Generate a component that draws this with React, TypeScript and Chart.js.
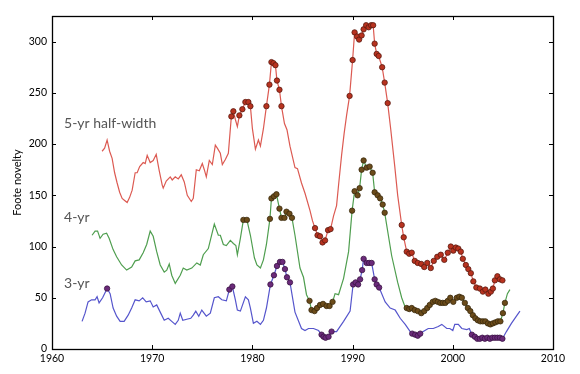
import React, { useEffect, useRef } from "react";
import { Chart, registerables } from "chart.js";

Chart.register(...registerables);

// ---- 5-yr half-width series ----
const fiveYrYears = [
  1965.0, 1965.25, 1965.5, 1965.75, 1966.0, 1966.25, 1966.5, 1966.75, 1967.0, 1967.25, 1967.5, 1967.75,
  1968.0, 1968.3, 1968.5, 1968.75, 1969.1, 1969.3, 1969.5, 1969.8, 1970.1, 1970.4, 1970.7, 1971.0,
  1971.1, 1971.4, 1971.8, 1972.0, 1972.3, 1972.6, 1972.9, 1973.2, 1973.5, 1973.9, 1974.1, 1974.4,
  1974.7, 1975.0, 1975.2, 1975.4, 1975.7, 1976.0, 1976.3, 1976.5, 1976.8, 1977.0, 1977.3, 1977.6,
  1977.9, 1978.1, 1978.3, 1978.5, 1978.7, 1979.0, 1979.3, 1979.6, 1979.8, 1980.0, 1980.3, 1980.6,
  1980.8, 1981.1, 1981.4, 1981.7, 1981.9, 1982.1, 1982.3, 1982.45, 1982.7, 1982.9, 1983.2, 1983.45,
  1983.75, 1984.25, 1984.5, 1984.9, 1985.25, 1985.75, 1986.0, 1986.25, 1986.5, 1986.75, 1987.0, 1987.25,
  1987.55, 1987.8, 1988.1, 1988.4, 1988.6, 1988.9, 1989.15, 1989.4, 1989.7, 1990.0, 1990.2, 1990.45,
  1990.65, 1990.9, 1991.1, 1991.35, 1991.6, 1991.85, 1992.05, 1992.2, 1992.4, 1992.6, 1992.95, 1993.2,
  1993.5, 1993.8, 1994.2, 1994.5, 1994.9, 1995.1, 1995.4, 1995.65, 1995.9, 1996.2, 1996.5, 1996.85,
  1997.15, 1997.45, 1997.8, 1998.1, 1998.45, 1998.8, 1999.15, 1999.5, 1999.8, 2000.05, 2000.3, 2000.55,
  2000.8, 2001.0, 2001.3, 2001.55, 2001.8, 2002.05, 2002.35, 2002.7, 2003.0, 2003.25, 2003.55, 2003.8,
  2004.0, 2004.2, 2004.45, 2004.7, 2004.95,
];
const fiveYrValues = [
  193, 196, 204, 193, 186, 172, 162, 153, 147, 145, 143, 148,
  155, 172, 172, 178, 182, 181, 189, 182, 184, 190, 174, 160,
  157, 164, 168, 165, 168, 166, 170, 163, 150, 144, 147, 175,
  174, 181, 175, 168, 184, 180, 199, 196, 191, 180, 185, 191,
  227, 232, 224, 217, 228, 234, 241, 241, 237, 215, 195, 204,
  198, 215, 237, 258, 280, 279, 277, 262, 253, 237, 220, 214,
  198, 177, 176, 162, 152, 135, 125, 118, 111, 110, 104, 106,
  116, 117, 130, 140, 160, 189, 210, 228, 247, 282, 309, 305,
  302, 306, 312, 316, 314, 316, 316, 298, 288, 286, 275, 260,
  240, 215, 179, 150, 121, 109, 95, 93, 94, 86, 84, 83,
  80, 84, 79, 86, 90, 92, 87, 94, 100, 96, 99, 98,
  95, 88, 82, 78, 74, 66, 60, 59, 56, 58, 54, 56,
  59, 67, 71, 68, 67,
];
const fiveYrMarked = [
  0, 0, 0, 0, 0, 0, 0, 0, 0, 0, 0, 0,
  0, 0, 0, 0, 0, 0, 0, 0, 0, 0, 0, 0,
  0, 0, 0, 0, 0, 0, 0, 0, 0, 0, 0, 0,
  0, 0, 0, 0, 0, 0, 0, 0, 0, 0, 0, 0,
  1, 1, 0, 0, 1, 1, 1, 1, 1, 0, 0, 0,
  0, 0, 1, 1, 1, 1, 1, 1, 1, 1, 0, 0,
  0, 0, 0, 0, 0, 0, 0, 1, 1, 1, 1, 1,
  1, 1, 0, 0, 0, 0, 0, 0, 1, 1, 1, 1,
  1, 1, 1, 1, 1, 1, 1, 1, 1, 1, 1, 1,
  1, 0, 0, 0, 1, 1, 1, 1, 1, 1, 1, 1,
  1, 1, 1, 1, 1, 1, 1, 1, 1, 1, 1, 1,
  1, 1, 1, 1, 1, 1, 1, 1, 1, 1, 1, 1,
  1, 1, 1, 1, 1,
];

// ---- 4-yr series ----
const fourYrYears = [
  1964.0, 1964.3, 1964.55, 1964.8, 1965.1, 1965.45, 1965.7, 1966.1, 1966.45, 1966.95, 1967.45, 1967.95,
  1968.3, 1968.7, 1969.1, 1969.45, 1969.8, 1970.1, 1970.45, 1970.8, 1971.2, 1971.45, 1971.7, 1971.95,
  1972.3, 1972.8, 1973.1, 1973.45, 1973.95, 1974.45, 1974.8, 1975.1, 1975.6, 1976.2, 1976.6, 1976.8,
  1977.1, 1977.4, 1977.8, 1978.1, 1978.35, 1978.5, 1978.8, 1979.1, 1979.45, 1979.8, 1980.2, 1980.45,
  1980.8, 1981.1, 1981.4, 1981.75, 1981.9, 1982.15, 1982.4, 1982.7, 1982.9, 1983.2, 1983.4, 1983.7,
  1983.95, 1984.25, 1984.75, 1985.1, 1985.4, 1985.7, 1985.9, 1986.2, 1986.45, 1986.75, 1987.05, 1987.4,
  1987.7, 1988.0, 1988.25, 1988.6, 1989.1, 1989.6, 1989.95, 1990.2, 1990.5, 1990.7, 1990.9, 1991.1,
  1991.4, 1991.7, 1992.0, 1992.2, 1992.5, 1992.75, 1993.0, 1993.2, 1993.9, 1994.5, 1994.9, 1995.2,
  1995.4, 1995.65, 1995.9, 1996.2, 1996.5, 1996.85, 1997.15, 1997.45, 1997.7, 1998.0, 1998.25, 1998.5,
  1998.75, 1999.0, 1999.25, 1999.5, 1999.75, 2000.05, 2000.4, 2000.65, 2000.9, 2001.2, 2001.5, 2001.75,
  2002.0, 2002.25, 2002.5, 2002.75, 2003.0, 2003.25, 2003.5, 2003.75, 2004.0, 2004.25, 2004.5, 2004.75,
  2005.0, 2005.2, 2005.45, 2005.7,
];
const fourYrValues = [
  111, 115, 115, 108, 112, 113, 108, 97, 90, 82, 77, 80,
  86, 87, 94, 102, 115, 110, 95, 82, 75, 77, 83, 72,
  64, 72, 79, 77, 79, 84, 82, 92, 98, 122, 111, 111,
  102, 101, 106, 103, 101, 92, 108, 126, 126, 111, 89, 82,
  79, 87, 102, 127, 147, 149, 151, 137, 128, 128, 134, 132,
  128, 111, 79, 70, 53, 47, 38, 37, 40, 43, 44, 42,
  42, 46, 54, 53, 69, 95, 135, 154, 150, 157, 175, 184,
  177, 178, 172, 153, 150, 147, 141, 133, 91, 65, 50, 42,
  40, 39, 40, 38, 37, 35, 37, 40, 43, 46, 47, 46,
  45, 45, 45, 47, 50, 46, 50, 51, 50, 45, 40, 37,
  33, 30, 28, 27, 27, 27, 25, 24, 25, 26, 27, 27,
  35, 45, 54, 58,
];
const fourYrMarked = [
  0, 0, 0, 0, 0, 0, 0, 0, 0, 0, 0, 0,
  0, 0, 0, 0, 0, 0, 0, 0, 0, 0, 0, 0,
  0, 0, 0, 0, 0, 0, 0, 0, 0, 0, 0, 0,
  0, 0, 0, 0, 0, 0, 0, 1, 1, 0, 0, 0,
  0, 0, 0, 1, 1, 1, 1, 1, 1, 1, 1, 1,
  1, 0, 0, 0, 0, 1, 1, 1, 1, 1, 1, 1,
  1, 1, 0, 0, 0, 0, 1, 1, 1, 1, 1, 1,
  1, 1, 1, 1, 1, 1, 1, 1, 0, 0, 0, 0,
  1, 1, 1, 1, 1, 1, 1, 1, 1, 1, 1, 1,
  1, 1, 1, 1, 1, 1, 1, 1, 1, 1, 1, 1,
  1, 1, 1, 1, 1, 1, 1, 1, 1, 1, 1, 1,
  1, 1, 0, 0,
];

// ---- 3-yr series ----
const threeYrYears = [
  1963.0, 1963.3, 1963.6, 1963.95, 1964.3, 1964.5, 1964.7, 1965.05, 1965.5, 1965.8, 1966.1, 1966.45,
  1966.8, 1967.2, 1967.6, 1967.95, 1968.3, 1968.7, 1969.05, 1969.4, 1969.8, 1970.1, 1970.45, 1970.85,
  1971.2, 1971.6, 1971.95, 1972.3, 1972.6, 1972.8, 1973.05, 1973.45, 1973.85, 1974.1, 1974.35, 1974.65,
  1974.95, 1975.4, 1975.8, 1976.2, 1976.6, 1976.95, 1977.4, 1977.7, 1978.0, 1978.3, 1978.5, 1978.8,
  1979.3, 1979.6, 1979.8, 1980.1, 1980.45, 1980.8, 1981.1, 1981.4, 1981.8, 1982.15, 1982.45, 1982.75,
  1983.0, 1983.25, 1983.45, 1983.75, 1984.25, 1984.9, 1985.25, 1985.6, 1986.1, 1986.6, 1986.9, 1987.1,
  1987.3, 1987.6, 1987.9, 1988.4, 1989.1, 1989.75, 1990.05, 1990.3, 1990.55, 1990.75, 1990.95, 1991.1,
  1991.4, 1991.65, 1991.9, 1992.2, 1992.4, 1992.65, 1993.25, 1993.75, 1994.25, 1994.75, 1995.25, 1995.75,
  1995.95, 1996.25, 1996.5, 1996.75, 1997.05, 1997.55, 1998.05, 1998.55, 1998.9, 1999.4, 1999.7, 2000.0,
  2000.2, 2000.55, 2000.9, 2001.4, 2001.65, 2001.9, 2002.2, 2002.45, 2002.7, 2002.95, 2003.2, 2003.45,
  2003.7, 2003.95, 2004.2, 2004.45, 2004.7, 2004.95, 2005.35, 2005.85, 2006.35, 2006.7,
];
const threeYrValues = [
  27, 35, 46, 48, 48, 51, 45, 50, 59, 54, 40, 32,
  27, 27, 33, 40, 48, 47, 50, 46, 47, 41, 43, 35,
  28, 30, 27, 24, 28, 35, 28, 29, 30, 33, 37, 32,
  38, 32, 35, 50, 51, 48, 47, 58, 61, 48, 38, 37,
  51, 48, 40, 25, 27, 24, 28, 40, 63, 72, 81, 85,
  85, 78, 70, 65, 36, 20, 18, 20, 20, 18, 14, 12,
  11, 12, 17, 17, 27, 37, 63, 65, 63, 68, 77, 88,
  84, 84, 84, 68, 63, 60, 46, 40, 38, 30, 24, 17,
  15, 14, 13, 15, 17, 20, 20, 22, 24, 20, 20, 18,
  24, 24, 20, 19, 20, 14, 12, 10, 10, 11, 10, 11,
  10, 11, 11, 11, 11, 10, 17, 25, 32, 37,
];
const threeYrMarked = [
  0, 0, 0, 0, 0, 0, 0, 0, 1, 0, 0, 0,
  0, 0, 0, 0, 0, 0, 0, 0, 0, 0, 0, 0,
  0, 0, 0, 0, 0, 0, 0, 0, 0, 0, 0, 0,
  0, 0, 0, 0, 0, 0, 0, 1, 1, 0, 0, 0,
  0, 0, 0, 0, 0, 0, 0, 0, 1, 1, 1, 1,
  1, 1, 1, 1, 0, 0, 0, 0, 0, 0, 1, 1,
  1, 1, 1, 0, 0, 0, 1, 1, 1, 1, 1, 1,
  1, 1, 1, 1, 1, 1, 0, 0, 0, 0, 0, 0,
  1, 1, 1, 1, 0, 0, 0, 0, 0, 0, 0, 0,
  0, 0, 0, 0, 0, 1, 1, 1, 1, 1, 1, 1,
  1, 1, 1, 1, 1, 1, 0, 0, 0, 0,
];

// ---- axes and labels ----
const xTickValues = [1960, 1970, 1980, 1990, 2000, 2010];
const yTickValues = [0, 50, 100, 150, 200, 250, 300];
const xRange = [1960, 2010];
const yRange = [0, 325];
const yAxisTitle = "Foote novelty";
const seriesLabels = ["5-yr half-width", "4-yr", "3-yr"];
const labelYears = [1961.2, 1961.2, 1961.2];
const labelValues = [220, 128, 63.5];

const FONT = "Lato, 'DejaVu Sans', sans-serif";

function buildPoints(xs: number[], ys: number[]) {
  return xs.map((x, i) => ({ x, y: ys[i] }));
}

const framePlugin = {
  id: "mplFrame",
  afterDraw(chart: any) {
    const { ctx, chartArea, scales } = chart;
    const { left, right, top, bottom } = chartArea;
    ctx.save();
    ctx.strokeStyle = "#000";
    ctx.lineWidth = 1;
    ctx.beginPath();
    const tl = 4;
    xTickValues.forEach((v) => {
      const px = Math.round(scales.x.getPixelForValue(v)) + 0.5;
      ctx.moveTo(px, bottom);
      ctx.lineTo(px, bottom - tl);
      ctx.moveTo(px, top);
      ctx.lineTo(px, top + tl);
    });
    yTickValues.forEach((v) => {
      const py = Math.round(scales.y.getPixelForValue(v)) + 0.5;
      ctx.moveTo(left, py);
      ctx.lineTo(left + tl, py);
      ctx.moveTo(right, py);
      ctx.lineTo(right - tl, py);
    });
    ctx.stroke();
    ctx.lineWidth = 1.3;
    ctx.strokeRect(Math.round(left) + 0.5, Math.round(top) + 0.5, Math.round(right - left), Math.round(bottom - top));
    // series annotations
    ctx.fillStyle = "#555";
    ctx.font = `14px ${FONT}`;
    ctx.textAlign = "left";
    ctx.textBaseline = "middle";
    seriesLabels.forEach((t, i) => {
      ctx.fillText(t, scales.x.getPixelForValue(labelYears[i]), scales.y.getPixelForValue(labelValues[i]));
    });
    // y axis title
    ctx.fillStyle = "#000";
    ctx.font = `11px ${FONT}`;
    ctx.translate(17, (top + bottom) / 2);
    ctx.rotate(-Math.PI / 2);
    ctx.textAlign = "center";
    ctx.fillText(yAxisTitle, 0, 0);
    ctx.restore();
  },
};

function seriesDataset(xs: number[], ys: number[], marks: number[], line: string, fill: string, edge: string) {
  return {
    data: buildPoints(xs, ys),
    borderColor: line,
    borderWidth: 1.2,
    pointRadius: marks.map((m) => (m ? 2.7 : 0)),
    pointBackgroundColor: fill,
    pointBorderColor: edge,
    pointBorderWidth: 0.8,
    tension: 0,
    fill: false,
  };
}

export default function App() {
  const ref = useRef<HTMLCanvasElement | null>(null);
  useEffect(() => {
    if (!ref.current) return;
    const chart = new Chart(ref.current, {
      type: "line",
      data: {
        datasets: [
          seriesDataset(fiveYrYears, fiveYrValues, fiveYrMarked, "#dc5a52", "#b8321f", "#5a1a10"),
          seriesDataset(fourYrYears, fourYrValues, fourYrMarked, "#4f9e4f", "#6b4b1a", "#3a2a0c"),
          seriesDataset(threeYrYears, threeYrValues, threeYrMarked, "#5555cc", "#6b2a7a", "#3a1444"),
        ] as any,
      },
      options: {
        animation: false,
        responsive: false,
        layout: { padding: { left: 0, right: 27, top: 16, bottom: 0 } },
        plugins: { legend: { display: false }, tooltip: { enabled: false } },
        scales: {
          x: {
            type: "linear",
            min: xRange[0],
            max: xRange[1],
            afterBuildTicks: (s: any) => {
              s.ticks = xTickValues.map((v) => ({ value: v }));
            },
            afterFit: (s: any) => {
              s.height = 25;
            },
            grid: { display: false, drawTicks: false },
            border: { display: false },
            ticks: {
              padding: 3,
              color: "#000",
              font: { family: FONT, size: 10.5 },
              maxRotation: 0,
              callback: (v: any) => String(v),
            },
          },
          y: {
            type: "linear",
            min: yRange[0],
            max: yRange[1],
            afterBuildTicks: (s: any) => {
              s.ticks = yTickValues.map((v) => ({ value: v }));
            },
            afterFit: (s: any) => {
              s.width = 52;
            },
            grid: { display: false, drawTicks: false },
            border: { display: false },
            ticks: {
              padding: 5,
              color: "#000",
              font: { family: FONT, size: 10.5 },
              callback: (v: any) => String(v),
            },
          },
        },
      },
      plugins: [framePlugin],
    });
    return () => chart.destroy();
  }, []);
  return (
    <div style={{ position: "absolute", left: 0, top: 0, width: 580, height: 374, background: "#fff" }}>
      <canvas ref={ref} width={580} height={374} style={{ width: 580, height: 374 }} />
    </div>
  );
}
